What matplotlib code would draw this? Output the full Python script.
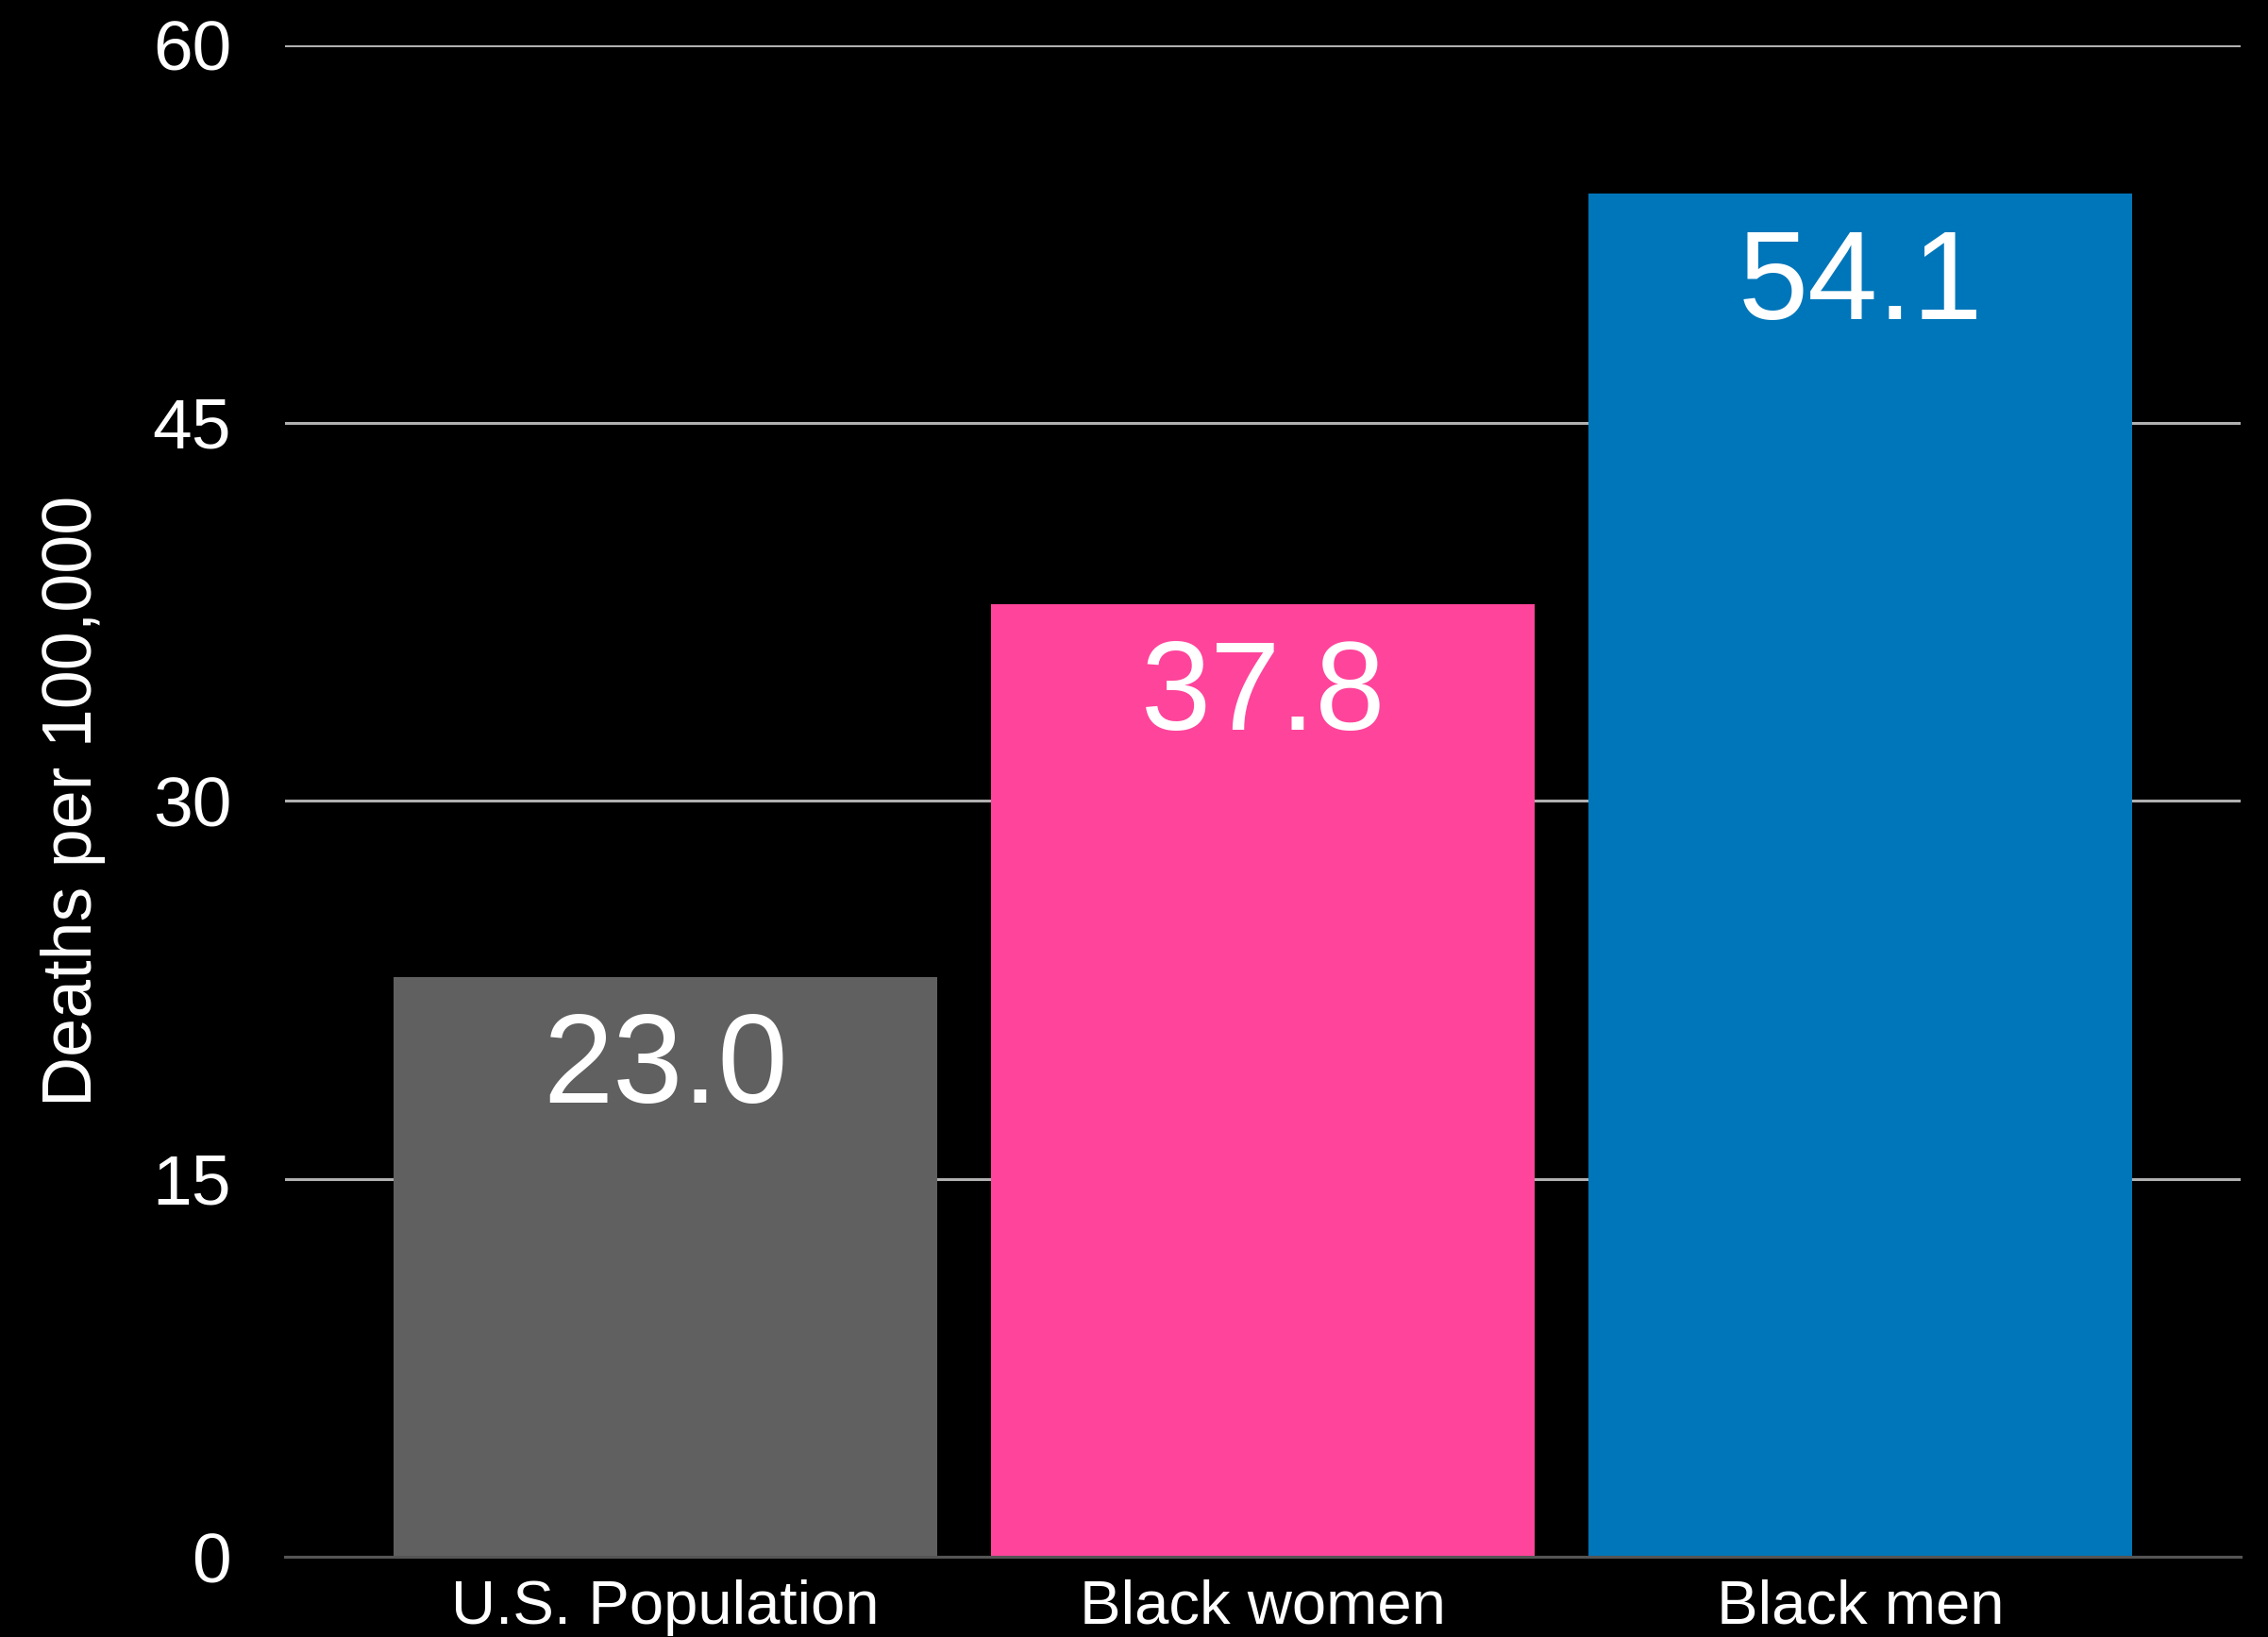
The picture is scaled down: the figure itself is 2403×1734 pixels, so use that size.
import matplotlib
matplotlib.use("Agg")
import matplotlib.pyplot as plt

# Deaths per 100,000 by group
groups = ["U.S. Population", "Black women", "Black men"]
rates = [23.0, 37.8, 54.1]
bar_colors = ["#606060", "#FF449B", "#0076BA"]
yticks = [0, 15, 30, 45, 60]

plt.rcParams["font.family"] = ["Liberation Sans", "DejaVu Sans"]

fig = plt.figure(figsize=(24.03, 17.34), dpi=100, facecolor="black")
ax = fig.add_axes([0.1257, 0.049, 0.8623, 0.9236], facecolor="black")

x = range(len(groups))
bars = ax.bar(x, rates, width=0.91, color=bar_colors, zorder=3)

for xi, v in zip(x, rates):
    ax.annotate(f"{v:.1f}", (xi, v), xytext=(0, -26), textcoords="offset points",
                ha="center", va="top", color="white", fontsize=96, zorder=4)

ax.set_xlim(-0.637, 2.637)
ax.set_ylim(0, 60)
ax.set_yticks(yticks)
ax.set_xticks(list(x))
ax.set_xticklabels(groups)

ax.yaxis.grid(True, color="#b0b0b0", linewidth=2.2, zorder=0)
for s in ["top", "right", "left"]:
    ax.spines[s].set_visible(False)
ax.spines["bottom"].set_color("#555555")
ax.spines["bottom"].set_linewidth(2.2)
ax.spines["bottom"].set_zorder(5)

ax.tick_params(axis="y", length=0, pad=41, labelsize=54, labelcolor="white")
ax.tick_params(axis="x", length=0, pad=17, labelsize=47, labelcolor="white")

ax.set_ylabel("Deaths per 100,000", fontsize=53, color="white", labelpad=36)

fig.savefig("out.png", dpi=100, facecolor="black")
